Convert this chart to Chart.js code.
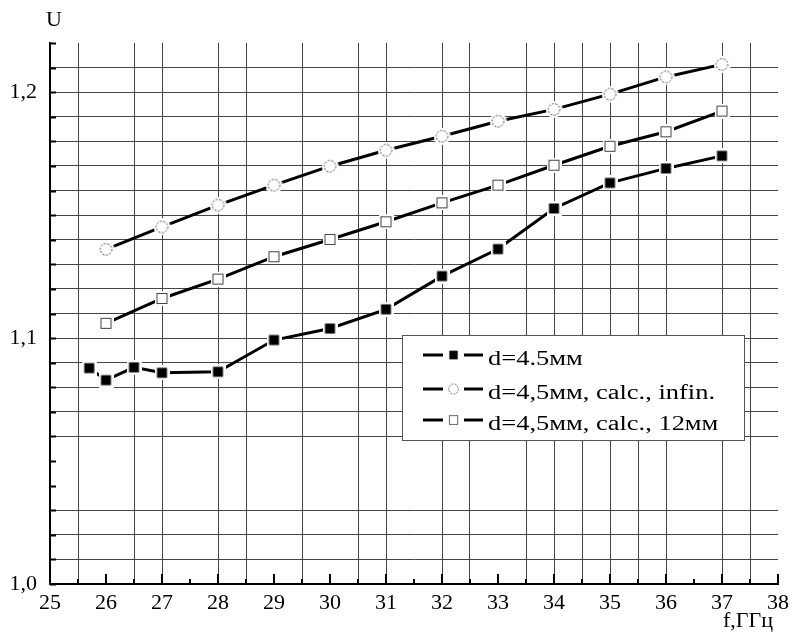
<!DOCTYPE html>
<html>
<head>
<meta charset="utf-8">
<script src="https://cdn.jsdelivr.net/npm/chart.js@4.4.1/dist/chart.umd.min.js"></script>
<style>
  html, body { margin: 0; padding: 0; background: #fff; }
  #wrap { width: 795px; height: 636px; }
  #probe { position: absolute; left: -1000px; top: 0; font-family: "Liberation Serif"; font-size: 22px; }
</style>
</head>
<body>
<div id="wrap"><canvas id="chart" width="795" height="636"></canvas></div>
<div id="probe">f,ГГц 1,0 d=4.5мм</div>
<script>
// Данные
const freqMeas = [25.7, 26, 26.5, 27, 28, 29, 30, 31, 32, 33, 34, 35, 36, 37];
const uMeas = [1.0878, 1.0829, 1.0881, 1.0859, 1.0863, 1.0992, 1.1039, 1.1117, 1.1252, 1.1362, 1.1527, 1.1631, 1.1690, 1.1741];

const freqCalc = [26, 27, 28, 29, 30, 31, 32, 33, 34, 35, 36, 37];
const uCalcInfin = [1.1361, 1.1452, 1.1541, 1.1622, 1.1699, 1.1764, 1.1821, 1.1882, 1.1930, 1.1992, 1.2062, 1.2113];
const uCalc12 = [1.1060, 1.1161, 1.1240, 1.1331, 1.1401, 1.1473, 1.1550, 1.1622, 1.1703, 1.1780, 1.1839, 1.1923];

const seriesLabels = ['d=4.5мм', 'd=4,5мм, calc., infin.', 'd=4,5мм, calc., 12мм'];

const xTickLabels = [25, 26, 27, 28, 29, 30, 31, 32, 33, 34, 35, 36, 37, 38];
const yTickValues = [1.0, 1.1, 1.2];
const yTickLabels = ['1,0', '1,1', '1,2'];

const xTitle = 'f,ГГц';
const yTitle = 'U';

// линии сетки, которых на оригинале нет
const hiddenXGrid = [26, 27.5, 29, 30, 31.5, 33, 36.5, 38];
const hiddenYGrid = [1.04, 1.05, 1.22];

const SERIF = '"Liberation Serif", "Times New Roman", serif';

function toPoints(xs, ys) {
  return xs.map((x, i) => ({ x, y: ys[i] }));
}

function inList(list, v) {
  return list.some(t => Math.abs(t - v) < 1e-6);
}

// Маркеры с белым ореолом, как в Origin
function makeMarker(kind) {
  const c = document.createElement('canvas');
  const size = kind === 'circle' ? 17 : 15;
  c.width = size; c.height = size;
  const g = c.getContext('2d');
  const m = size / 2;
  g.fillStyle = '#fff';
  if (kind === 'circle') {
    g.beginPath(); g.arc(m, m, m, 0, Math.PI * 2); g.fill();
    g.beginPath(); g.arc(m, m, 5.8, 0, Math.PI * 2);
    g.setLineDash([2, 1.5]);
    g.strokeStyle = '#444'; g.lineWidth = 1; g.stroke();
  } else if (kind === 'filled') {
    g.fillRect(0, 0, size, size);
    g.fillStyle = '#000';
    g.fillRect(m - 5, m - 5, 10, 10);
  } else {
    g.fillRect(0, 0, size, size);
    g.strokeStyle = '#444'; g.lineWidth = 1;
    g.strokeRect(m - 5, m - 5, 10, 10);
  }
  return c;
}

const markers = [makeMarker('filled'), makeMarker('circle'), makeMarker('open')];

function yLabel(v) {
  const i = yTickValues.findIndex(t => Math.abs(t - v) < 1e-6);
  return i >= 0 ? yTickLabels[i] : '';
}

function xLabel(v) {
  const i = xTickLabels.findIndex(t => Math.abs(t - v) < 1e-6);
  return i >= 0 ? String(xTickLabels[i]) : '';
}

const decorPlugin = {
  id: 'decor',
  beforeDatasetsDraw(chart) {
    // короткие засечки внутрь осей
    const ctx = chart.ctx;
    const xs = chart.scales.x, ys = chart.scales.y;
    const left = chart.chartArea.left, bottom = chart.chartArea.bottom;
    ctx.save();
    ctx.strokeStyle = '#000';
    ctx.lineWidth = 2;
    ctx.beginPath();
    ys.ticks.forEach(t => {
      const y = Math.round(ys.getPixelForValue(t.value)) + 0.5;
      ctx.moveTo(left, y); ctx.lineTo(left + 6, y);
    });
    xs.ticks.forEach(t => {
      const x = Math.round(xs.getPixelForValue(t.value));
      const len = Number.isInteger(t.value) ? 10 : 5;
      ctx.moveTo(x, bottom); ctx.lineTo(x, bottom - len);
    });
    ctx.stroke();
    ctx.restore();
  },
  afterDraw(chart) {
    const ctx = chart.ctx;
    ctx.save();
    // подписи осей
    ctx.fillStyle = '#000';
    ctx.font = '22px ' + SERIF;
    ctx.textBaseline = 'alphabetic';
    ctx.textAlign = 'left';
    ctx.fillText(yTitle, 46, 26);
    ctx.fillText(xTitle, 723, 627);

    // легенда
    const bx = 402, by = 335, bw = 342, bh = 105;
    ctx.fillStyle = '#fff';
    ctx.fillRect(bx, by, bw, bh);
    ctx.strokeStyle = '#555';
    ctx.lineWidth = 1;
    ctx.strokeRect(bx + 0.5, by + 0.5, bw, bh);

    ctx.font = '20px ' + SERIF;
    const k = 227 / ctx.measureText(seriesLabels[1]).width;
    const rowY = [355, 389, 420];
    seriesLabels.forEach((label, i) => {
      const y = rowY[i];
      ctx.strokeStyle = '#000';
      ctx.lineWidth = 3;
      ctx.beginPath();
      ctx.moveTo(423, y); ctx.lineTo(443, y);
      ctx.moveTo(464, y); ctx.lineTo(483, y);
      ctx.stroke();
      const img = markers[i];
      const w = img.width * 0.85, h = img.height * 0.85;
      ctx.drawImage(img, 453.5 - w / 2, y - h / 2, w, h);
      ctx.save();
      ctx.translate(488, y + 10);
      ctx.scale(k, 1);
      ctx.fillStyle = '#000';
      ctx.fillText(label, 0, 0);
      ctx.restore();
    });
    ctx.restore();
  }
};

function makeDataset(xs, ys, i) {
  return {
    label: seriesLabels[i],
    data: toPoints(xs, ys),
    borderColor: '#000',
    borderWidth: 3,
    tension: 0,
    fill: false,
    pointStyle: markers[i],
    pointRadius: 6,
    pointHoverRadius: 6
  };
}

function drawChart() {
  new Chart(document.getElementById('chart'), {
    type: 'line',
    data: {
      datasets: [
        makeDataset(freqMeas, uMeas, 0),
        makeDataset(freqCalc, uCalcInfin, 1),
        makeDataset(freqCalc, uCalc12, 2)
      ]
    },
    options: {
      responsive: false,
      animation: false,
      layout: { padding: { top: 43, right: 13, left: 0, bottom: 0 } },
      plugins: { legend: { display: false }, tooltip: { enabled: false } },
      scales: {
        x: {
          type: 'linear',
          min: 25, max: 38,
          afterFit: s => { s.height = 52; },
          ticks: {
            stepSize: 0.5, autoSkip: false, maxRotation: 0, minRotation: 0,
            maxTicksLimit: 100, padding: 6, color: '#000',
            font: { family: SERIF, size: 22 },
            callback: v => xLabel(v)
          },
          grid: {
            color: ctx => (ctx.tick && inList(hiddenXGrid, ctx.tick.value) ? 'rgba(0,0,0,0)' : '#444'),
            lineWidth: 1, drawTicks: false
          },
          border: { color: '#000', width: 2 }
        },
        y: {
          type: 'linear',
          min: 1.0, max: 1.22,
          afterFit: s => { s.width = 50; },
          ticks: {
            stepSize: 0.01, autoSkip: false, maxTicksLimit: 100,
            padding: 13, color: '#000',
            font: { family: SERIF, size: 22 },
            callback: v => yLabel(v)
          },
          grid: {
            color: ctx => (ctx.tick && inList(hiddenYGrid, ctx.tick.value) ? 'rgba(0,0,0,0)' : '#444'),
            lineWidth: 1, drawTicks: false
          },
          border: { color: '#000', width: 2 }
        }
      }
    },
    plugins: [decorPlugin]
  });
}

document.fonts.load('22px "Liberation Serif"', 'f,ГГц 1,0 d=4.5мм')
  .catch(() => null)
  .then(drawChart);
</script>
</body>
</html>
